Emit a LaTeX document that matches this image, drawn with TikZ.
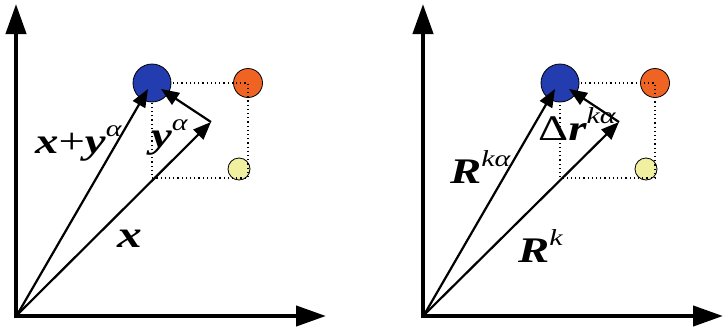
\documentclass[tikz,border=0pt]{standalone}
\usepackage{fontspec}
\usepackage{graphicx}
\setmainfont{Liberation Serif}
\usetikzlibrary{arrows.meta}
\definecolor{ptblue}{RGB}{35,60,175}
\definecolor{ptorange}{RGB}{240,100,35}
\definecolor{ptyellow}{RGB}{240,240,160}
\tikzset{
  axis/.style={line width=4.2pt, {Triangle[length=30pt,width=20pt]}-{Triangle[length=30pt,width=20pt]}},
  vec/.style={line width=2.2pt, -{Triangle[length=18pt,width=14pt]}},
  guide/.style={line width=1.2pt, dash pattern=on 1.2pt off 3pt},
  atom/.style={circle, draw=black, line width=0.8pt, inner sep=0pt},
  lbl/.style={font=\fontsize{36}{38}\selectfont\bfseries\itshape, inner sep=0pt, anchor=base west},
}
\newcommand{\wide}[1]{\scalebox{1.3}[1]{#1}}
\newcommand{\supr}[1]{\raisebox{17pt}{\fontsize{23}{25}\selectfont\mdseries\itshape #1}}
\begin{document}
\begin{tikzpicture}[x=1pt,y=-1pt]
\useasboundingbox (0,0) rectangle (724,327);

% === Left panel ===
\coordinate (oL) at (17,315);
\coordinate (cornerL) at (248,178);
\draw[axis] (16,4) -- (16,316) -- (326,316);

\node[atom, fill=ptorange, minimum size=29pt] (orangeL) at (248,83) {};
\node[atom, fill=ptyellow, minimum size=22pt] (yellowL) at (239,169) {};
\draw[guide] (152,83) -- (orangeL.center) -- (cornerL) -- (152,178) -- (152,83);
\node[atom, fill=ptblue, minimum size=38pt] (blueL) at (152,83) {};

\coordinate (sumtipL) at (148,89);
\coordinate (xtipL) at (211,122);
\coordinate (ytipL) at (161,89);
\draw[vec] (oL) -- (sumtipL);
\draw[vec] (oL) -- (xtipL);
\draw[vec] (xtipL) -- (ytipL);

\node[lbl] (sumlblL) at (35,153) {\wide{x{\mdseries\upshape+}y\supr{α}}};
\node[lbl] (ylblL) at (151,147) {\wide{y\supr{α}}};
\node[lbl, font=\fontsize{38}{40}\selectfont\bfseries\itshape] (xlblL) at (117,247) {\wide{x}};

% === Right panel ===
\coordinate (oR) at (424,315);
\coordinate (cornerR) at (655,178);
\draw[axis] (423,4) -- (423,316) -- (723,316);

\node[atom, fill=ptorange, minimum size=29pt] (orangeR) at (655,83) {};
\node[atom, fill=ptyellow, minimum size=22pt] (yellowR) at (646,169) {};
\draw[guide] (560,83) -- (orangeR.center) -- (cornerR) -- (560,178) -- (560,83);
\node[atom, fill=ptblue, minimum size=38pt] (blueR) at (560,83) {};

\coordinate (RkatipR) at (555,89);
\coordinate (RktipR) at (619,122);
\coordinate (drtipR) at (569,89);
\draw[vec] (oR) -- (RkatipR);
\draw[vec] (oR) -- (RktipR);
\draw[vec] (RktipR) -- (drtipR);

\node[lbl] (RkalblR) at (450,183) {\wide{R\supr{kα}}};
\node[lbl] (drlblR) at (538,140) {\wide{{\mdseries\upshape Δ}r\supr{kα}}};
\node[lbl] (RklblR) at (518,262) {\wide{R\supr{k}}};
\end{tikzpicture}
\end{document}
